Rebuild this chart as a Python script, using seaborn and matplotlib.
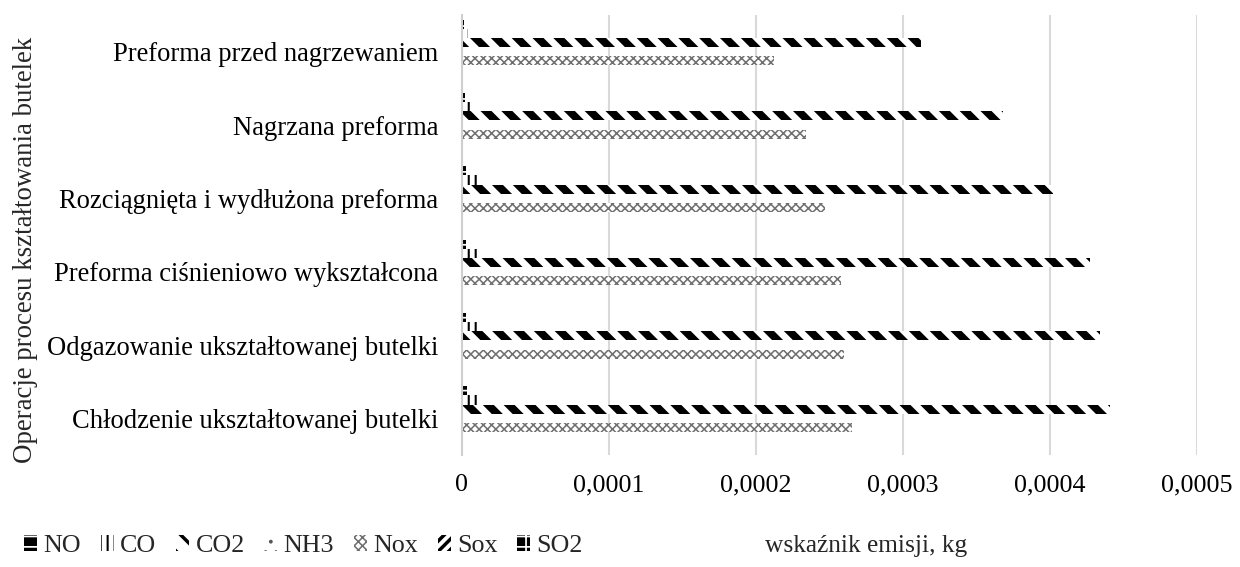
import matplotlib
matplotlib.use("Agg")
import matplotlib.pyplot as plt
import pandas as pd
import seaborn as sns
from matplotlib.ticker import FuncFormatter, MultipleLocator

operations = [
    "Preforma przed nagrzewaniem",
    "Nagrzana preforma",
    "Rozciągnięta i wydłużona preforma",
    "Preforma ciśnieniowo wykształcona",
    "Odgazowanie ukształtowanej butelki",
    "Chłodzenie ukształtowanej butelki",
]
pollutants = ["NO", "CO", "CO2", "NH3", "Nox", "Sox", "SO2"]

# emission per operation, kg
no_kg = [1.5e-6, 2.0e-6, 2.5e-6, 3.0e-6, 3.0e-6, 3.2e-6]
co_kg = [4.0e-6, 6.0e-6, 1.0e-5, 1.05e-5, 1.05e-5, 1.1e-5]
co2_kg = [0.000312, 0.000368, 0.000402, 0.000427, 0.000434, 0.000441]
nh3_kg = [2e-8, 2e-8, 2e-8, 2e-8, 2e-8, 2e-8]
nox_kg = [0.000212, 0.000234, 0.000247, 0.000258, 0.000260, 0.000265]
sox_kg = [3e-8, 3e-8, 3e-8, 3e-8, 3e-8, 3e-8]
so2_kg = [3e-8, 3e-8, 3e-8, 3e-8, 3e-8, 3e-8]

series = [no_kg, co_kg, co2_kg, nh3_kg, nox_kg, sox_kg, so2_kg]

# fill pattern per pollutant: face colour, hatch colour, hatch, hatch line width
patterns = [
    ("black", "white", "--", 1.0),
    ("white", "black", "|||", 1.2),
    ("white", "black", "\\\\", 4.5),
    ("white", "#555555", "..", 1.0),
    ("white", "#707070", "xxxxx", 0.9),
    ("white", "black", "////", 2.0),
    ("black", "white", "++", 1.0),
]

rows = []
for name, values in zip(pollutants, series):
    for op, v in zip(operations, values):
        rows.append({"operacja": op, "zanieczyszczenie": name, "kg": v})
df = pd.DataFrame(rows)

sns.set_theme(style="white")
plt.rcParams["font.family"] = ["Liberation Serif", "DejaVu Serif"]
FS = 15

fig = plt.figure(figsize=(9.92, 4.536), dpi=125)
ax = fig.add_axes([462 / 1240, 1 - 455 / 567, (1197 - 462) / 1240, (455 - 15) / 567])

sns.barplot(
    data=df, y="operacja", x="kg", hue="zanieczyszczenie",
    order=operations, hue_order=pollutants, orient="h",
    width=0.875, gap=0, saturation=1, legend=False, ax=ax,
    palette=["white"] * len(pollutants),
)

for container, (fc, hc, hatch, hlw) in zip(ax.containers, patterns):
    for p in container:
        p.set_facecolor(fc)
        p.set_edgecolor(hc)
        p.set_linewidth(0)
        p.set_hatch(hatch)
        try:
            p.set_hatch_linewidth(hlw)
        except AttributeError:
            p._hatch_linewidth = hlw

ax.set_xlim(0, 0.0005)
ax.xaxis.set_major_locator(MultipleLocator(0.0001))
ax.xaxis.set_major_formatter(
    FuncFormatter(lambda v, _: "0" if abs(v) < 1e-12 else f"{v:.4f}".replace(".", ","))
)
ax.grid(axis="x", color="#d9d9d9", linewidth=1.2)
ax.grid(axis="y", visible=False)
for side in ["top", "right", "bottom"]:
    ax.spines[side].set_visible(False)
ax.spines["left"].set_color("#cfcfcf")
ax.spines["left"].set_linewidth(1.2)
ax.tick_params(axis="both", length=0, colors="black")
ax.tick_params(axis="y", pad=13.5, labelsize=15.3)
ax.tick_params(axis="x", pad=11, labelsize=FS)
ax.set_ylabel("")
ax.set_xlabel("")

fig.text(26 / 1240, 1 - 250 / 567, "Operacje procesu kształtowania butelek",
         rotation=90, ha="center", va="center", fontsize=15.5)
fig.text(866 / 1240, 1 - 546 / 567, "wskaźnik emisji, kg",
         ha="center", va="center", fontsize=14.6)

handles = [c[0] for c in ax.containers]
leg = fig.legend(handles, pollutants, loc="center left",
                 bbox_to_anchor=(24 / 1240, 1 - 546 / 567), ncol=7, frameon=False,
                 fontsize=FS, handlelength=0.5, handleheight=0.55,
                 handletextpad=0.25, columnspacing=0.75, borderaxespad=0, borderpad=0)
for h, (fc, hc, hatch, hlw) in zip(leg.legend_handles, patterns):
    try:
        h.set_hatch_linewidth(min(hlw, 2.0))
    except AttributeError:
        h._hatch_linewidth = min(hlw, 2.0)

fig.savefig("out.png", dpi=125, facecolor="white")
